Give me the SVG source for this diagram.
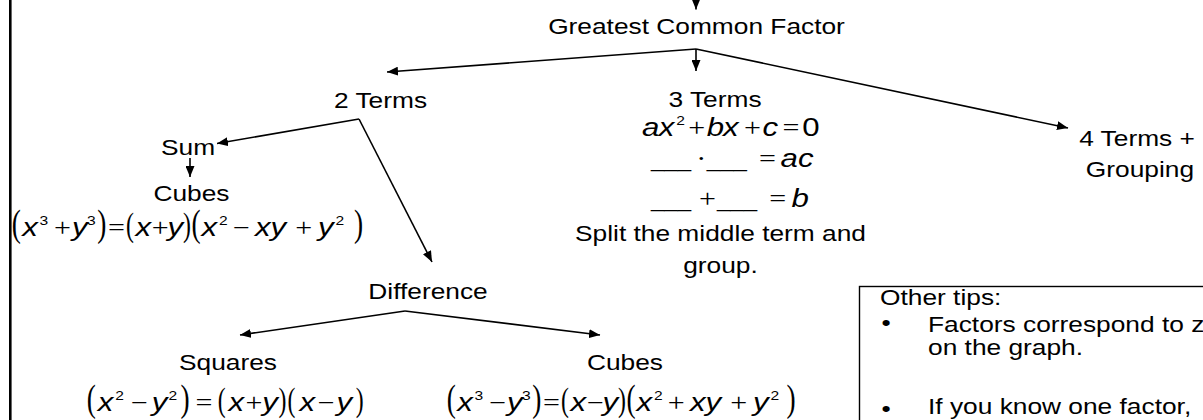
<svg xmlns="http://www.w3.org/2000/svg" width="1203" height="420" viewBox="0 0 1203 420">
<style>
.t{font-family:"Liberation Sans",Arial,sans-serif;font-size:22.5px;fill:#000}
.v{font-family:"Liberation Sans",Arial,sans-serif;font-style:italic;font-size:26px}
.o{font-family:"Liberation Serif","Times New Roman",serif;font-size:25px}
.n{font-family:"Liberation Sans",Arial,sans-serif;font-size:26px}
.s{font-family:"Liberation Sans",Arial,sans-serif;font-size:13px}
.u{font-family:"Liberation Sans",Arial,sans-serif;font-size:20px}
.bp{font-family:"Liberation Serif","Times New Roman",serif;font-size:38px;fill:#000}
.np{font-family:"Liberation Serif","Times New Roman",serif;font-size:33px;fill:#000}
.m{fill:#000}
.c{stroke:#000;stroke-width:1.6;fill:none;marker-end:url(#ah)}
</style>
<defs>
<marker id="ah" markerUnits="userSpaceOnUse" markerWidth="11" markerHeight="9" refX="11" refY="4.5" orient="auto">
<path d="M0,0 L11,4.5 L0,9 z" fill="#000"/>
</marker>
</defs>
<rect width="1203" height="420" fill="#fff"/>
<line x1="10.3" y1="0" x2="10.3" y2="420" stroke="#000" stroke-width="2.6"/>

<g id="connectors">
<line class="c" x1="696" y1="-10" x2="696" y2="9.5"/>
<line class="c" x1="696" y1="49" x2="387" y2="72"/>
<line class="c" x1="696" y1="49" x2="696" y2="71"/>
<line class="c" x1="696" y1="49" x2="1068" y2="128"/>
<line class="c" x1="359" y1="119" x2="217" y2="143.5"/>
<line class="c" x1="359" y1="119" x2="432" y2="262"/>
<line class="c" x1="190" y1="158" x2="190" y2="177"/>
<line class="c" x1="405" y1="311" x2="240" y2="335"/>
<line class="c" x1="405" y1="311" x2="600" y2="335"/>
</g>

<g id="gcf" transform="translate(696.5,0) scale(1.17,1)"><text class="t" x="0" y="34.5" text-anchor="middle">Greatest Common Factor</text></g>
<g id="two-terms" transform="translate(380.5,0) scale(1.17,1)"><text class="t" x="0" y="108" text-anchor="middle">2 Terms</text></g>

<g id="three-terms">
<g transform="translate(715,0) scale(1.17,1)"><text class="t" x="0" y="107" text-anchor="middle">3 Terms</text></g>
<g transform="translate(642,0) scale(1.2,1)"><text class="m">
<tspan class="v" x="0" y="136">a</tspan><tspan class="v" x="14" y="136">x</tspan><tspan class="s" x="28.5" y="125">2</tspan><tspan class="o" x="38.5" y="136">+</tspan><tspan class="v" x="54" y="136">b</tspan><tspan class="v" x="67.5" y="136">x</tspan><tspan class="o" x="85" y="136">+</tspan><tspan class="v" x="100.5" y="136">c</tspan><tspan class="o" x="117" y="136">=</tspan><tspan class="n" x="133.5" y="136">0</tspan>
</text></g>
<g transform="translate(651,0) scale(1.2,1)"><text class="m">
<tspan class="u" x="0" y="167">___</tspan><tspan class="o" x="37.8" y="167">·</tspan><tspan class="u" x="46.5" y="167">___</tspan><tspan class="o" x="90" y="167">=</tspan><tspan class="v" x="108" y="167">a</tspan><tspan class="v" x="122.5" y="167">c</tspan>
</text></g>
<g transform="translate(651,0) scale(1.2,1)"><text class="m">
<tspan class="u" x="0" y="207">___</tspan><tspan class="o" x="40" y="207">+</tspan><tspan class="u" x="55" y="207">___</tspan><tspan class="o" x="98.5" y="207">=</tspan><tspan class="v" x="117" y="207">b</tspan>
</text></g>
<g transform="translate(720.5,0) scale(1.17,1)"><text class="t" text-anchor="middle"><tspan x="0" y="241.5">Split the middle term and</tspan><tspan x="0" y="273.5">group.</tspan></text></g>
</g>

<g id="four-terms" transform="translate(1137,0) scale(1.17,1)"><text class="t" text-anchor="middle"><tspan x="0" y="146">4 Terms +</tspan><tspan x="2.5" y="177">Grouping</tspan></text></g>

<g id="sum" transform="translate(188,0) scale(1.17,1)"><text class="t" x="0" y="155" text-anchor="middle">Sum</text></g>

<g id="sum-cubes">
<g transform="translate(191.5,0) scale(1.17,1)"><text class="t" x="0" y="201.5" text-anchor="middle">Cubes</text></g>
<g transform="translate(12,0) scale(1.2,1)">
<text class="m"><tspan class="v" x="8.5" y="236">x</tspan><tspan class="s" x="23" y="225">3</tspan><tspan class="o" x="35" y="236">+</tspan><tspan class="v" x="50" y="236">y</tspan><tspan class="s" x="62.5" y="225">3</tspan><tspan class="o" x="80" y="236">=</tspan><tspan class="v" x="103" y="236">x</tspan><tspan class="o" x="116.5" y="236">+</tspan><tspan class="v" x="129.5" y="236">y</tspan><tspan class="v" x="158" y="236">x</tspan><tspan class="s" x="172.5" y="225">2</tspan><tspan class="o" x="184" y="236">−</tspan><tspan class="v" x="202.5" y="236">x</tspan><tspan class="v" x="215.5" y="236">y</tspan><tspan class="o" x="236" y="236">+</tspan><tspan class="v" x="255" y="236">y</tspan><tspan class="s" x="269.5" y="225">2</tspan></text>
<text class="bp" transform="translate(-0.3,0) scale(0.6,1)" y="236">(</text>
<text class="bp" transform="translate(71,0) scale(0.6,1)" y="236">)</text>
<text class="np" transform="translate(95,0) scale(0.6,1)" y="236">(</text>
<text class="np" transform="translate(142.5,0) scale(0.6,1)" y="236">)</text>
<text class="bp" transform="translate(149.5,0) scale(0.6,1)" y="236">(</text>
<text class="bp" transform="translate(285,0) scale(0.6,1)" y="236">)</text>
</g>
</g>

<g id="difference" transform="translate(428,0) scale(1.17,1)"><text class="t" x="0" y="299.5" text-anchor="middle">Difference</text></g>

<g id="squares">
<g transform="translate(228,0) scale(1.17,1)"><text class="t" x="0" y="370" text-anchor="middle">Squares</text></g>
<g transform="translate(87,0) scale(1.2,1)">
<text class="m"><tspan class="v" x="9" y="411">x</tspan><tspan class="s" x="23.5" y="400">2</tspan><tspan class="o" x="36.5" y="411">−</tspan><tspan class="v" x="54" y="411">y</tspan><tspan class="s" x="68" y="400">2</tspan><tspan class="o" x="90.5" y="411">=</tspan><tspan class="v" x="118" y="411">x</tspan><tspan class="o" x="132" y="411">+</tspan><tspan class="v" x="146" y="411">y</tspan><tspan class="v" x="177" y="411">x</tspan><tspan class="o" x="192" y="411">−</tspan><tspan class="v" x="208" y="411">y</tspan></text>
<text class="bp" transform="translate(-0.3,0) scale(0.6,1)" y="411">(</text>
<text class="bp" transform="translate(78,0) scale(0.6,1)" y="411">)</text>
<text class="np" transform="translate(109,0) scale(0.6,1)" y="411">(</text>
<text class="np" transform="translate(159.5,0) scale(0.6,1)" y="411">)</text>
<text class="np" transform="translate(167,0) scale(0.6,1)" y="411">(</text>
<text class="np" transform="translate(224,0) scale(0.6,1)" y="411">)</text>
</g>
</g>

<g id="diff-cubes">
<g transform="translate(625,0) scale(1.17,1)"><text class="t" x="0" y="370" text-anchor="middle">Cubes</text></g>
<g transform="translate(447,0) scale(1.2,1)">
<text class="m"><tspan class="v" x="8.5" y="411">x</tspan><tspan class="s" x="23" y="400">3</tspan><tspan class="o" x="35" y="411">−</tspan><tspan class="v" x="50" y="411">y</tspan><tspan class="s" x="62.5" y="400">3</tspan><tspan class="o" x="80" y="411">=</tspan><tspan class="v" x="103" y="411">x</tspan><tspan class="o" x="116.5" y="411">−</tspan><tspan class="v" x="129.5" y="411">y</tspan><tspan class="v" x="158" y="411">x</tspan><tspan class="s" x="172.5" y="400">2</tspan><tspan class="o" x="184" y="411">+</tspan><tspan class="v" x="202.5" y="411">x</tspan><tspan class="v" x="215.5" y="411">y</tspan><tspan class="o" x="236" y="411">+</tspan><tspan class="v" x="255" y="411">y</tspan><tspan class="s" x="269.5" y="400">2</tspan></text>
<text class="bp" transform="translate(-0.3,0) scale(0.6,1)" y="411">(</text>
<text class="bp" transform="translate(71,0) scale(0.6,1)" y="411">)</text>
<text class="np" transform="translate(95,0) scale(0.6,1)" y="411">(</text>
<text class="np" transform="translate(142.5,0) scale(0.6,1)" y="411">)</text>
<text class="bp" transform="translate(149.5,0) scale(0.6,1)" y="411">(</text>
<text class="bp" transform="translate(283,0) scale(0.6,1)" y="411">)</text>
</g>
</g>

<g id="tips">
<rect x="859.5" y="286.5" width="360" height="160" fill="none" stroke="#000" stroke-width="1.4"/>
<g transform="translate(880,0) scale(1.17,1)"><text class="t" x="0" y="305">Other tips:</text></g>
<g transform="translate(881.5,0) scale(1.17,1)"><text class="t" x="0" y="330">•</text><text class="t" x="0" y="416">•</text></g>
<g transform="translate(928,0) scale(1.17,1)"><text class="t"><tspan x="0" y="332.5">Factors correspond to z</tspan><tspan x="0" y="355.5">on the graph.</tspan><tspan x="0" y="414">If you know one factor,</tspan></text></g>
</g>
</svg>
